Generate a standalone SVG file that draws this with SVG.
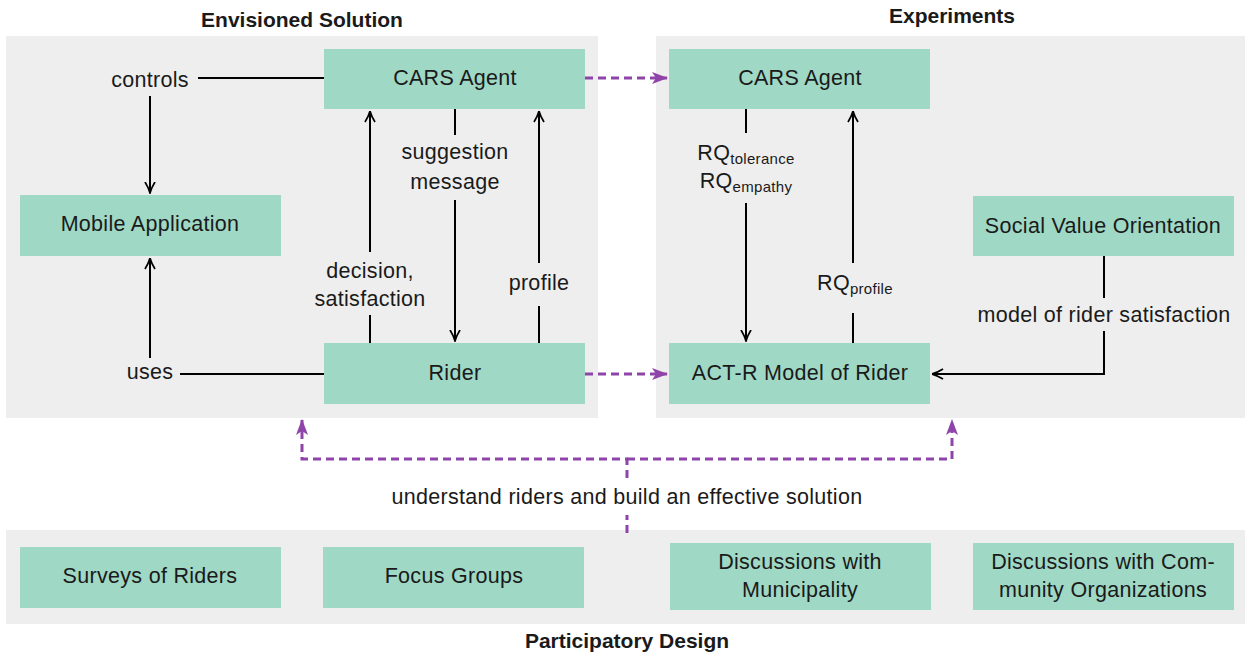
<svg xmlns="http://www.w3.org/2000/svg" width="1245" height="656" viewBox="0 0 1245 656">
<style>
.panel{fill:#eeeeee}
.node{fill:#9fd8c5}
text{font-family:"Liberation Sans",Arial,sans-serif;font-size:21.5px;fill:#1a1a1a;letter-spacing:0.3px}
.lbl{text-anchor:middle}
.title{font-weight:bold;text-anchor:middle;font-size:21px;letter-spacing:0}
.sub{font-size:15px}
.edge{stroke:#000;stroke-width:2;fill:none}
.dash{stroke:#8e44a8;stroke-width:3;fill:none;stroke-dasharray:8 5}
</style>
<defs>
<marker id="ah" viewBox="0 0 12 12" refX="11.5" refY="6" markerWidth="12" markerHeight="12" markerUnits="userSpaceOnUse" orient="auto">
<path d="M0.5,1 Q6,4.5 11.5,6 Q6,7.5 0.5,11" fill="none" stroke="#000" stroke-width="1.7"/>
</marker>
<marker id="ahp" viewBox="0 0 16 12" refX="15" refY="6" markerWidth="16" markerHeight="12" markerUnits="userSpaceOnUse" orient="auto">
<path d="M0,0 L16,6 L0,12 L4,6 Z" fill="#8e44a8"/>
</marker>
</defs>
<rect class="panel" x="6" y="36" width="592" height="382"/>
<rect class="panel" x="656" y="36" width="589" height="382"/>
<rect class="panel" x="6" y="530" width="1239" height="94"/>
<text class="title" x="302" y="27">Envisioned Solution</text>
<text class="title" x="952" y="23">Experiments</text>
<text class="title" x="627" y="648">Participatory Design</text>
<g id="connectors">
<path class="edge" d="M324,78 H198"/>
<path class="edge" d="M150,96 V193" marker-end="url(#ah)"/>
<path class="edge" d="M324,374 H180"/>
<path class="edge" d="M150,358 V258" marker-end="url(#ah)"/>
<path class="edge" d="M370,343 V315"/>
<path class="edge" d="M370,252 V111" marker-end="url(#ah)"/>
<path class="edge" d="M455,109 V135"/>
<path class="edge" d="M455,200 V341" marker-end="url(#ah)"/>
<path class="edge" d="M539,343 V306"/>
<path class="edge" d="M539,263 V111" marker-end="url(#ah)"/>
<path class="edge" d="M746,109 V133"/>
<path class="edge" d="M746,203 V341" marker-end="url(#ah)"/>
<path class="edge" d="M853,343 V313"/>
<path class="edge" d="M853,263 V111" marker-end="url(#ah)"/>
<path class="edge" d="M1104,256 V298"/>
<path class="edge" d="M1104,331 V374 H932" marker-end="url(#ah)"/>
<path class="dash" d="M585,78 H667" marker-end="url(#ahp)"/>
<path class="dash" d="M585,374 H667" marker-end="url(#ahp)"/>
<path class="dash" d="M627,533 V515"/>
<path class="dash" d="M627,478 V459 H302 V420" marker-end="url(#ahp)"/>
<path class="dash" d="M627,459 H952 V420" marker-end="url(#ahp)"/>
<text class="lbl" x="150" y="87">controls</text>
<text class="lbl" x="150" y="379">uses</text>
<text class="lbl" x="370" y="278">decision,</text>
<text class="lbl" x="370" y="306">satisfaction</text>
<text class="lbl" x="455" y="159">suggestion</text>
<text class="lbl" x="455" y="189">message</text>
<text class="lbl" x="539" y="290">profile</text>
<text class="lbl" x="746" y="160">RQ<tspan class="sub" dy="4">tolerance</tspan></text>
<text class="lbl" x="746" y="188">RQ<tspan class="sub" dy="4">empathy</tspan></text>
<text class="lbl" x="855" y="290">RQ<tspan class="sub" dy="4">profile</tspan></text>
<text class="lbl" x="1104" y="322">model of rider satisfaction</text>
<text class="lbl" x="627" y="504">understand riders and build an effective solution</text>
</g>
<g id="cars-agent-left"><rect class="node" x="324" y="49" width="261" height="60"/><text class="lbl" x="455" y="85">CARS Agent</text></g>
<g id="mobile-app"><rect class="node" x="20" y="195" width="261" height="61"/><text class="lbl" x="150" y="231">Mobile Application</text></g>
<g id="rider"><rect class="node" x="324" y="343" width="261" height="61"/><text class="lbl" x="455" y="380">Rider</text></g>
<g id="cars-agent-right"><rect class="node" x="669" y="49" width="261" height="60"/><text class="lbl" x="800" y="85">CARS Agent</text></g>
<g id="actr-rider"><rect class="node" x="669" y="343" width="261" height="61"/><text class="lbl" x="800" y="380">ACT-R Model of Rider</text></g>
<g id="svo"><rect class="node" x="973" y="196" width="261" height="60"/><text class="lbl" x="1103" y="233">Social Value Orientation</text></g>
<g id="surveys"><rect class="node" x="20" y="547" width="261" height="61"/><text class="lbl" x="150" y="583">Surveys of Riders</text></g>
<g id="focus-groups"><rect class="node" x="323" y="547" width="261" height="61"/><text class="lbl" x="454" y="583">Focus Groups</text></g>
<g id="municipality"><rect class="node" x="670" y="543" width="261" height="67"/><text class="lbl" x="800" y="569">Discussions with</text><text class="lbl" x="800" y="597">Municipality</text></g>
<g id="community"><rect class="node" x="973" y="543" width="261" height="67"/><text class="lbl" x="1103" y="569">Discussions with Com-</text><text class="lbl" x="1103" y="597">munity Organizations</text></g>
</svg>
